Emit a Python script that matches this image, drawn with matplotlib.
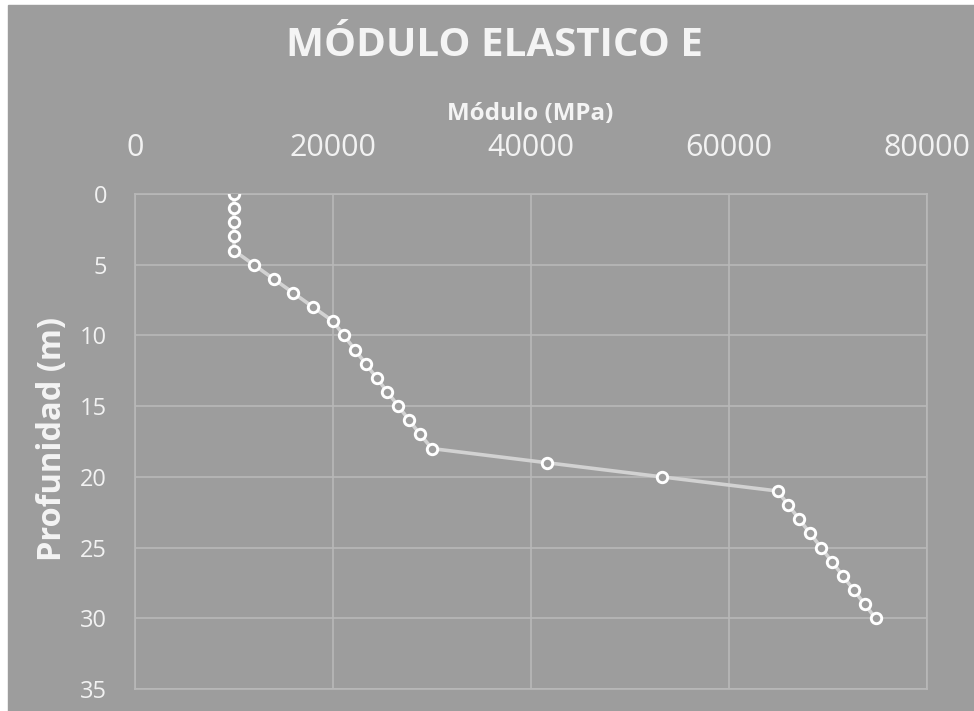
import matplotlib
matplotlib.use("Agg")
import matplotlib.pyplot as plt
from matplotlib.patches import Rectangle

plt.rcParams['font.family'] = ['Open Sans', 'DejaVu Sans']

# modulo elastico (MPa) vs profundidad (m)
profundidad = [0, 1, 2, 3, 4, 5, 6, 7, 8, 9, 10, 11, 12, 13, 14, 15,
               16, 17, 18, 19, 20, 21, 22, 23, 24, 25, 26, 27, 28, 29, 30]
modulo = [10000, 10000, 10000, 10000, 10000, 12000, 14000, 16000, 18000,
          20000, 21100, 22200, 23300, 24400, 25500, 26600, 27700, 28800,
          30000, 41600, 53200, 64900, 66000, 67100, 68200, 69300, 70400,
          71500, 72600, 73700, 74800]
x_ticks = [0, 20000, 40000, 60000, 80000]
y_ticks = [0, 5, 10, 15, 20, 25, 30, 35]

bg = '#9d9d9d'
grid_c = '#b8b8b8'
W, H = 974, 711

fig = plt.figure(figsize=(W / 100, H / 100), dpi=100, facecolor='white')
fig.patches.append(Rectangle((8 / W, 0), 1 - 8 / W, 1 - 5 / H,
                             transform=fig.transFigure, color=bg, zorder=-10))

ax = fig.add_axes([135 / W, 1 - 689 / H, (927 - 135) / W, (689 - 194) / H])
ax.set_facecolor(bg)

ax.plot(modulo, profundidad, color='#d2d2d2', lw=2.6, zorder=3,
        marker='o', ms=7.5, mfc=bg, mec='white', mew=2.1)

ax.set_xlim(0, 80000)
ax.set_ylim(35, 0)
ax.set_xticks(x_ticks)
ax.set_yticks(y_ticks)
ax.xaxis.tick_top()
ax.grid(True, color=grid_c, lw=1.2)
ax.set_axisbelow(True)
for s in ax.spines.values():
    s.set_color(grid_c)
    s.set_linewidth(1.2)

ax.tick_params(axis='x', length=0, pad=22, labelsize=22, labelcolor='#f2f2f2')
ax.tick_params(axis='y', length=0, pad=20, labelsize=17, labelcolor='#f2f2f2')

fig.text(495 / W, 1 - 46 / H, 'MÓDULO ELASTICO E', ha='center', va='center',
         fontsize=29, fontweight='bold', color='#f4f4f4')
fig.text(530 / W, 1 - 114 / H, 'Módulo (MPa)', ha='center', va='center',
         fontsize=17.4, fontweight='bold', color='#f4f4f4')
fig.text(53 / W, 1 - 439 / H, 'Profunidad (m)', ha='center', va='center',
         rotation=90, fontsize=23.5, fontweight='bold', color='#f4f4f4')

fig.savefig('out.png', dpi=100, facecolor='white')
